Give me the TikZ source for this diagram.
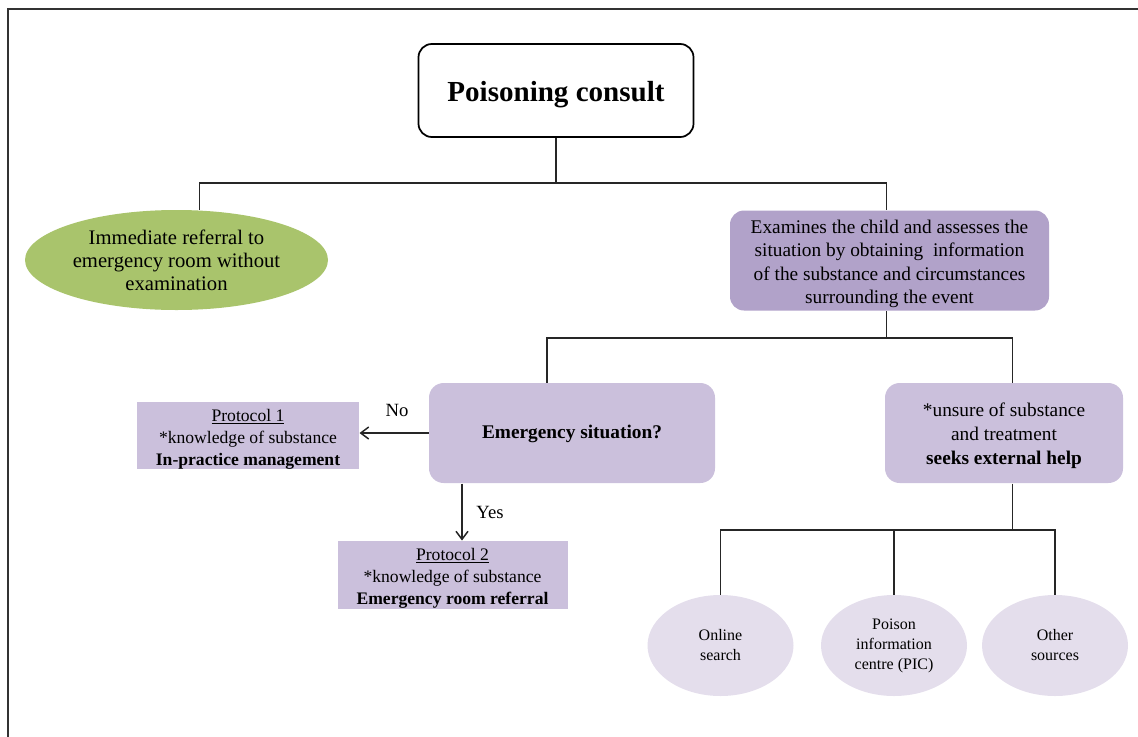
\documentclass[tikz,border=0pt]{standalone}
\usepackage{fontspec}
\setmainfont{Liberation Serif}
\usetikzlibrary{shapes.geometric,arrows.meta,calc}

\definecolor{leafgreen}{HTML}{A9C46C}
\definecolor{plumdark}{HTML}{B1A2C9}
\definecolor{plumlight}{HTML}{CBC0DC}
\definecolor{plumpale}{HTML}{E4DEEC}

% font sizes used in the boxes
\newcommand{\titlefont}{\fontsize{21.8}{26}\selectfont\bfseries}
\newcommand{\boxfont}{\fontsize{14.5}{17.5}\selectfont}
\newcommand{\greenfont}{\fontsize{15.5}{17.3}\selectfont}
\newcommand{\protofont}{\fontsize{13.2}{16.5}\selectfont}
\newcommand{\bubblefont}{\fontsize{12}{15}\selectfont}
% taller first line, pushes the text a little down in its box
\newcommand{\lift}[1]{\rule{0pt}{#1}}

\tikzset{every picture/.style={line width=0.75pt}}
\tikzset{
  roundbox/.style={rounded corners=11pt, align=center, inner sep=0pt, fill=plumlight, font=\boxfont},
  flatbox/.style={align=center, inner sep=0pt, fill=plumlight, font=\protofont},
  bubble/.style={ellipse, align=center, inner sep=0pt, fill=plumpale, font=\bubblefont,
    minimum width=109.5pt, minimum height=75.75pt},
  link/.style={line width=1.1pt, draw=black!85},
  pointer/.style={link, -{Straight Barb[length=6pt,width=9pt]}},
}

\begin{document}
\begin{tikzpicture}[x=0.75pt,y=0.75pt,yscale=-1,xscale=1]
	\useasboundingbox (0,0) rectangle (1138,736);

	% outer frame, runs off the right and bottom edge
	\draw [line width=1.5pt, draw=black!80] (8,9) rectangle (1170,770);

	%Shape: Rounded Rect [id:consult]
	\node [draw, rounded corners=10pt, line width=1.3pt, fill=white, inner sep=0pt,
	  minimum width=206.25pt, minimum height=69.75pt, font=\titlefont] (consult) at (556,90.5) {\lift{21pt}Poisoning consult};
	%Shape: Ellipse [id:referral]
	\node [ellipse, fill=leafgreen, inner sep=0pt, align=center, font=\greenfont,
	  minimum width=227.25pt, minimum height=75pt] (referral) at (176.5,260) {Immediate referral to\\emergency room without\\examination};
	%Shape: Rounded Rect [id:examine]
	\node [roundbox, fill=plumdark, rounded corners=10.5pt, minimum width=239.25pt, minimum height=75pt] (examine) at (889.5,260.5)
	  {\lift{15pt}Examines the child and assesses the\\situation by obtaining\ \ information\\of the substance and circumstances\\surrounding the event};
	%Shape: Rounded Rect [id:emerg]
	\node [roundbox, minimum width=214.5pt, minimum height=75pt, font=\boxfont\bfseries] (emerg) at (572,433) {\lift{12pt}Emergency situation?};
	%Shape: Rounded Rect [id:unsure]
	\node [roundbox, minimum width=178.5pt, minimum height=75pt, font=\fontsize{14.5}{18}\selectfont] (unsure) at (1004,433)
	  {\lift{15pt}*unsure of substance\\and treatment\\\textbf{seeks external help}};
	%Shape: Rectangle [id:proto1]
	\node [flatbox, minimum width=166.5pt, minimum height=50.25pt] (proto1) at (248,435.5)
	  {\lift{14.3pt}\underline{Protocol 1}\\*knowledge of substance\\\textbf{In-practice management}};
	%Shape: Rectangle [id:proto2]
	\node [flatbox, minimum width=172.5pt, minimum height=51pt] (proto2) at (452.5,575)
	  {\lift{14.3pt}\underline{Protocol 2}\\*knowledge of substance\\\textbf{Emergency room referral}};
	%Shape: Ellipse [id:sources]
	\node [bubble] (online) at (720.5,645.5) {Online\\search};
	\node [bubble] (pic) at (894,645.5) {Poison\\information\\centre (PIC)};
	\node [bubble] (other) at (1055,645.5) {Other\\sources};

	% branching lines
	\coordinate (fork1) at (556,183);
	\coordinate (fork2) at (886.5,338);
	\coordinate (fork3) at (1012.5,530);
	\draw [link] (consult.south) -- (fork1);
	\draw [link] ($(referral.north)+(23,0)$) |- (fork1) -| ($(examine.north)+(-3,0)$);
	\draw [link] ($(examine.south)+(-3,0)$) -- (fork2);
	\draw [link] ($(emerg.north)+(-25,0)$) |- (fork2) -| ($(unsure.north)+(8.5,0)$);
	\draw [link] ($(unsure.south)+(8.5,0)$) -- (fork3);
	\draw [link] (online.north) |- (fork3) -| (other.north);
	\draw [link] (pic.north) -- (pic.north |- fork3);

	% yes / no arrows
	\coordinate (yesline) at (462,0);
	\draw [pointer] (emerg.west) -- (emerg.west -| proto1.east);
	\draw [pointer] (emerg.south -| yesline) -- (proto2.north -| yesline);

	% Text Node
	\node [font=\fontsize{14}{16}\selectfont] (nolabel) at (397,410) {No};
	% Text Node
	\node [font=\fontsize{14}{16}\selectfont] (yeslabel) at (490,512) {Yes};

\end{tikzpicture}
\end{document}
